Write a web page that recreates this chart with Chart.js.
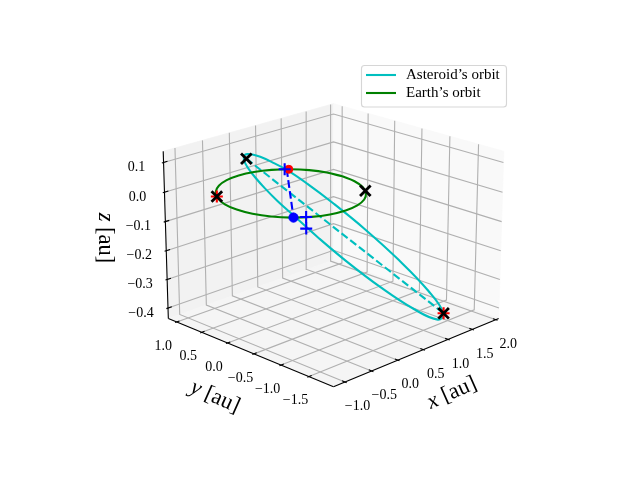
<!DOCTYPE html>
<html>
<head>
<meta charset="utf-8">
<style>
  html, body { margin: 0; padding: 0; background: #fff; }
  canvas { display: block; }
</style>
<script src="https://cdn.jsdelivr.net/npm/chart.js@4/dist/chart.umd.min.js"></script>
</head>
<body>
<canvas id="orbitChart" width="640" height="480"></canvas>
<script>
// ─── DATA (au) ─────────────────────────────────────────────
const asteroidX = [-0.460, -0.339, -0.197, -0.030, 0.164, 0.390, 0.650, 0.943, 1.256, 1.554, 1.762, 1.782, 1.540, 1.078, 0.542, 0.066, -0.286, -0.517, -0.650, -0.712, -0.722, -0.694, -0.639, -0.561, -0.460];
const asteroidY = [0.415, 0.528, 0.621, 0.694, 0.741, 0.753, 0.718, 0.615, 0.414, 0.090, -0.366, -0.902, -1.390, -1.680, -1.714, -1.552, -1.290, -0.999, -0.718, -0.463, -0.237, -0.040, 0.133, 0.284, 0.415];
const asteroidZ = [0.115, 0.113, 0.105, 0.091, 0.070, 0.040, 0.000, -0.058, -0.133, -0.222, -0.316, -0.392, -0.422, -0.392, -0.316, -0.222, -0.133, -0.058, 0.000, 0.040, 0.070, 0.091, 0.105, 0.113, 0.115];

const earthX = [1.000, 0.966, 0.866, 0.707, 0.500, 0.259, 0.000, -0.259, -0.500, -0.707, -0.866, -0.966, -1.000, -0.966, -0.866, -0.707, -0.500, -0.259, 0.000, 0.259, 0.500, 0.707, 0.866, 0.966, 1.000];
const earthY = [0.000, 0.259, 0.500, 0.707, 0.866, 0.966, 1.000, 0.966, 0.866, 0.707, 0.500, 0.259, 0.000, -0.259, -0.500, -0.707, -0.866, -0.966, -1.000, -0.966, -0.866, -0.707, -0.500, -0.259, 0.000];
const earthZ = [0, 0, 0, 0, 0, 0, 0, 0, 0, 0, 0, 0, 0, 0, 0, 0, 0, 0, 0, 0, 0, 0, 0, 0, 0];

const apsisX = [-0.436, 1.540];
const apsisY = [0.391, -1.390];
const apsisZ = [0.115, -0.422];

const nodeX = [0.670, -0.685];
const nodeY = [0.740, -0.725];
const nodeZ = [0, 0];

const blackCrossX = [-0.436, 1.540, 0.775, -0.827];
const blackCrossY = [0.391, -1.390, -0.633, 0.559];
const blackCrossZ = [0.115, -0.422, 0, 0];

const redPlusX = [-0.827, 1.540];
const redPlusY = [0.559, -1.390];
const redPlusZ = [0, -0.422];

const redDotX = [0.690];
const redDotY = [0.720];
const redDotZ = [0];

const blueDotX = [-0.685];
const blueDotY = [-0.725];
const blueDotZ = [0];

const bluePlusX = [0.650, -0.550, -0.585];
const bluePlusY = [0.760, -0.820, -0.855];
const bluePlusZ = [0, 0, -0.034];

const xTicks = [-1.0, -0.5, 0.0, 0.5, 1.0, 1.5, 2.0];
const yTicks = [-1.5, -1.0, -0.5, 0.0, 0.5, 1.0];
const zTicks = [-0.4, -0.3, -0.2, -0.1, 0.0, 0.1];

const xLim = [-1.21, 2.06];
const yLim = [-1.93, 1.17];
const zLim = [-0.437, 0.137];

// ─── 3D VIEW ───────────────────────────────────────────────
const ELEV = 20, AZIM = -135, DIST = 10;
const CENTER_X = 333.5, CENTER_Y = 236.2, SCALE = 1992;
const aspectNorm = Math.hypot(4, 4, 3);
const boxSize = [4, 4, 3].map(a => a * 1.8294640721620434 * 25 / 24 / aspectNorm);

const el = ELEV * Math.PI / 180, az = AZIM * Math.PI / 180;
const viewW = [Math.cos(el) * Math.cos(az), Math.cos(el) * Math.sin(az), Math.sin(el)];
const uLen = Math.hypot(viewW[0], viewW[1]);
const viewU = [-viewW[1] / uLen, viewW[0] / uLen, 0];
const viewV = [
  viewW[1] * viewU[2] - viewW[2] * viewU[1],
  viewW[2] * viewU[0] - viewW[0] * viewU[2],
  viewW[0] * viewU[1] - viewW[1] * viewU[0]
];
const eye = boxSize.map((b, i) => b / 2 + DIST * viewW[i]);
const dot = (a, b) => a[0] * b[0] + a[1] * b[1] + a[2] * b[2];

function project(x, y, z) {
  const world = [
    (x - xLim[0]) / (xLim[1] - xLim[0]) * boxSize[0],
    (y - yLim[0]) / (yLim[1] - yLim[0]) * boxSize[1],
    (z - zLim[0]) / (zLim[1] - zLim[0]) * boxSize[2]
  ];
  const d = world.map((w, i) => w - eye[i]);
  const depth = -dot(d, viewW);
  return { x: CENTER_X + SCALE * dot(d, viewU) / depth, y: CENTER_Y - SCALE * dot(d, viewV) / depth };
}

const projectAll = (xs, ys, zs) => xs.map((x, i) => project(x, ys[i], zs[i]));

// ─── DATASETS ──────────────────────────────────────────────
const datasets = [];

function addLine(points, color, width, extra = {}) {
  datasets.push({
    data: points, showLine: true, borderColor: color, borderWidth: width,
    pointRadius: 0, order: -datasets.length, ...extra
  });
}

function addMarkers(points, style, radius, color, width) {
  datasets.push({
    data: points, showLine: false, pointStyle: style, pointRadius: radius,
    borderColor: color, backgroundColor: color, pointBorderColor: color,
    pointBackgroundColor: color, pointBorderWidth: width, order: -datasets.length
  });
}

function addPane(corners, color) {
  addLine(corners, color, 0.8, { fill: 'shape', backgroundColor: color });
}

const [x0, x1] = xLim, [y0, y1] = yLim, [z0, z1] = zLim;
addPane([project(x0, y1, z0), project(x1, y1, z0), project(x1, y1, z1), project(x0, y1, z1), project(x0, y1, z0)], '#f2f2f2');
addPane([project(x1, y0, z0), project(x1, y1, z0), project(x1, y1, z1), project(x1, y0, z1), project(x1, y0, z0)], '#f9f9f9');
addPane([project(x0, y0, z0), project(x1, y0, z0), project(x1, y1, z0), project(x0, y1, z0), project(x0, y0, z0)], '#f5f5f5');

const GRID = '#b0b0b0';
xTicks.forEach(t => addLine([project(t, y0, z0), project(t, y1, z0), project(t, y1, z1)], GRID, 1.1));
yTicks.forEach(t => addLine([project(x0, t, z0), project(x1, t, z0), project(x1, t, z1)], GRID, 1.1));
zTicks.forEach(t => addLine([project(x0, y1, t), project(x1, y1, t), project(x1, y0, t)], GRID, 1.1));

addLine([project(x0, y0, z0), project(x1, y0, z0)], '#000', 1.1);
addLine([project(x0, y0, z0), project(x0, y1, z0)], '#000', 1.1);
addLine([project(x0, y1, z0), project(x0, y1, z1)], '#000', 1.1);

xTicks.forEach(t => addLine([project(t, y0 - 0.03, z0), project(t, y0 + 0.05, z0)], '#000', 1.1));
yTicks.forEach(t => addLine([project(x0 - 0.03, t, z0), project(x0 + 0.05, t, z0)], '#000', 1.1));
zTicks.forEach(t => addLine([project(x0 - 0.03, y1, t), project(x0 + 0.07, y1, t)], '#000', 1.1));

addLine(projectAll(asteroidX, asteroidY, asteroidZ), '#00bfbf', 2.1, { tension: 0.4 });
addLine(projectAll(apsisX, apsisY, apsisZ), '#00bfbf', 2.1, { borderDash: [7.7, 3.3] });
addLine(projectAll(earthX, earthY, earthZ), '#008000', 2.1, { tension: 0.4 });
addLine(projectAll(nodeX, nodeY, nodeZ), '#0000ff', 2.1, { borderDash: [7.7, 3.3] });

addMarkers(projectAll(redPlusX, redPlusY, redPlusZ), 'cross', 6, '#ff0000', 2.1);
addMarkers(projectAll(redDotX, redDotY, redDotZ), 'circle', 4, '#ff0000', 1);
addMarkers(projectAll(blueDotX, blueDotY, blueDotZ), 'circle', 4.6, '#0000ff', 1);
addMarkers(projectAll(bluePlusX, bluePlusY, bluePlusZ), 'cross', 6, '#0000ff', 2.1);
addMarkers(projectAll(blackCrossX, blackCrossY, blackCrossZ), 'crossRot', 7.5, '#000', 2.8);

// ─── TEXT: TICK LABELS, AXIS TITLES, LEGEND ────────────────
const tickText = v => (v < 0 ? '\u2212' : '') + Math.abs(v).toFixed(1);
const SERIF = '"Liberation Serif", serif';

function drawCentered(ctx, text, x, y) {
  ctx.textAlign = 'center';
  ctx.textBaseline = 'middle';
  ctx.fillText(text, x, y);
}

function drawAxisTitle(ctx, symbol, x, y, angle) {
  ctx.save();
  ctx.translate(x, y);
  ctx.rotate(angle * Math.PI / 180);
  ctx.textBaseline = 'middle';
  ctx.textAlign = 'left';
  ctx.font = 'italic 22.5px ' + SERIF;
  const symWidth = ctx.measureText(symbol).width;
  ctx.font = '22.5px ' + SERIF;
  const restWidth = ctx.measureText(' [au]').width;
  const start = -(symWidth + restWidth) / 2;
  ctx.font = 'italic 22.5px ' + SERIF;
  ctx.fillText(symbol, start, 0);
  ctx.font = '22.5px ' + SERIF;
  ctx.fillText(' [au]', start + symWidth, 0);
  ctx.restore();
}

const textPlugin = {
  id: 'orbitText',
  afterDatasetsDraw(chart) {
    const ctx = chart.ctx;
    ctx.save();
    ctx.fillStyle = '#000';
    ctx.font = '14px ' + SERIF;
    xTicks.forEach(t => { const p = project(t, y0, z0); drawCentered(ctx, tickText(t), p.x + 12.5, p.y + 24.5); });
    yTicks.forEach(t => { const p = project(x0, t, z0); drawCentered(ctx, tickText(t), p.x - 13.5, p.y + 24); });
    zTicks.forEach(t => { const p = project(x0, y1, t); drawCentered(ctx, tickText(t), p.x - 27, p.y + 5); });

    drawAxisTitle(ctx, 'x', 452, 393, -24);
    drawAxisTitle(ctx, 'y', 215, 397, 24);
    drawAxisTitle(ctx, 'z', 105, 238, 90);

    // legend box
    ctx.globalAlpha = 0.8;
    ctx.fillStyle = '#fff';
    ctx.strokeStyle = '#cccccc';
    ctx.lineWidth = 1.1;
    ctx.beginPath();
    ctx.roundRect(361.5, 65.5, 145, 41.5, 3);
    ctx.fill();
    ctx.stroke();
    ctx.globalAlpha = 1;
    ctx.lineWidth = 2.1;
    ctx.strokeStyle = '#00bfbf';
    ctx.beginPath(); ctx.moveTo(366, 75); ctx.lineTo(396, 75); ctx.stroke();
    ctx.strokeStyle = '#008000';
    ctx.beginPath(); ctx.moveTo(366, 93); ctx.lineTo(396, 93); ctx.stroke();
    ctx.fillStyle = '#000';
    ctx.font = '15px ' + SERIF;
    ctx.textAlign = 'left';
    ctx.textBaseline = 'middle';
    ctx.fillText('Asteroid\u2019s orbit', 406, 75);
    ctx.fillText('Earth\u2019s orbit', 406, 93);
    ctx.restore();
  }
};

// ─── CHART ─────────────────────────────────────────────────
new Chart(document.getElementById('orbitChart').getContext('2d'), {
  type: 'scatter',
  data: { datasets },
  plugins: [textPlugin],
  options: {
    responsive: false,
    animation: false,
    devicePixelRatio: 1,
    layout: { padding: 0, autoPadding: false },
    plugins: { legend: { display: false }, tooltip: { enabled: false } },
    scales: {
      x: { type: 'linear', display: false, min: 0, max: 640 },
      y: { type: 'linear', display: false, min: 0, max: 480, reverse: true }
    }
  }
});
</script>
</body>
</html>
